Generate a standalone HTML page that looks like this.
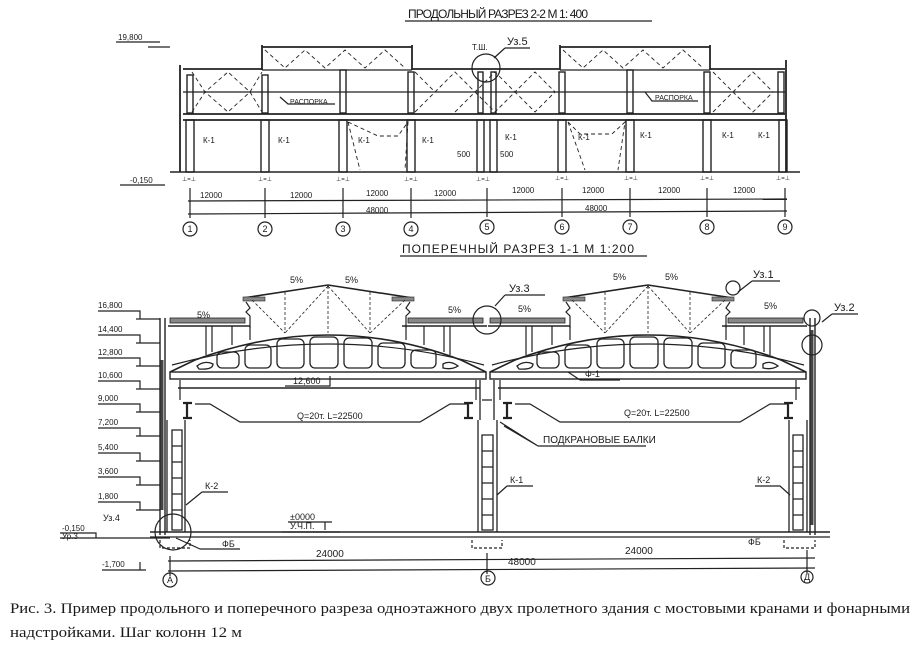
<!DOCTYPE html>
<html><head><meta charset="utf-8"><style>
html,body{margin:0;padding:0;background:#fff;}
svg{display:block;}
text{font-family:"Liberation Sans",sans-serif;fill:#1a1a1a;}
</style></head><body>
<svg width="920" height="648" viewBox="0 0 920 648" xmlns="http://www.w3.org/2000/svg" stroke="#222" fill="none" stroke-width="1.2">
<!-- ===== TOP: longitudinal section ===== -->
<text x="408" y="18" font-size="12" stroke="none" textLength="180">ПРОДОЛЬНЫЙ РАЗРЕЗ 2-2 М 1: 400</text>
<line x1="405" y1="21" x2="652" y2="21"/>
<text x="118" y="40" font-size="8" stroke="none">19,800</text>
<line x1="116" y1="42" x2="160" y2="42"/><line x1="148" y1="47" x2="170" y2="47"/>
<g stroke-width="1.8">
<line x1="183" y1="69" x2="262" y2="69"/><line x1="262" y1="47" x2="412" y2="47"/>
<line x1="412" y1="69" x2="560" y2="69"/><line x1="560" y1="47" x2="710" y2="47"/>
<line x1="710" y1="69" x2="785" y2="69"/>
<line x1="262" y1="45" x2="262" y2="70"/><line x1="412" y1="45" x2="412" y2="70"/>
<line x1="560" y1="45" x2="560" y2="70"/><line x1="710" y1="45" x2="710" y2="70"/>
<line x1="180" y1="65" x2="180" y2="172"/><line x1="786" y1="60" x2="786" y2="172"/>
<line x1="183" y1="114" x2="785" y2="114"/><line x1="183" y1="120" x2="785" y2="120"/>
</g>
<line x1="183" y1="92" x2="785" y2="92"/><line x1="262" y1="70" x2="412" y2="70"/><line x1="560" y1="70" x2="710" y2="70"/>
<g stroke-dasharray="4,3" stroke-width="0.9">
<path d="M192 72 L205 92 L228 72 L250 92 L262 72 M192 112 L205 92 L228 112 L250 92 L262 112"/>
<path d="M265 50 L285 68 L305 50 L325 68 L345 50 L365 68 L385 50 L405 68"/>
<path d="M415 72 L435 92 L455 72 L475 92 L495 72 L515 92 L535 72 L555 92 M415 112 L435 92 L455 72 M455 112 L475 92 L495 112 L515 92 L535 112 L555 92"/>
<path d="M563 50 L583 68 L603 50 L623 68 L643 50 L663 68 L683 50 L703 68"/>
<path d="M713 72 L733 92 L753 72 L773 92 M713 112 L733 92 L753 112 L773 92"/>
<path d="M348 122 L360 170 M348 122 L378 136 L398 136 L408 122 L405 170"/>
<path d="M568 122 L585 170 M568 122 L580 134 L612 134 L625 122 L618 170"/>
</g>
<text x="290" y="104" font-size="7" stroke="none">РАСПОРКА</text><path d="M280 97 L288 104 L335 104"/>
<text x="655" y="100" font-size="7" stroke="none">РАСПОРКА</text><path d="M645 92 L652 101 L698 101"/>
<g stroke-width="1.4">
<rect x="186" y="120" width="8" height="52"/><rect x="261" y="120" width="8" height="52"/><rect x="339" y="120" width="8" height="52"/><rect x="407" y="120" width="8" height="52"/>
<rect x="477" y="120" width="7" height="52"/><rect x="490" y="120" width="7" height="52"/>
<rect x="558" y="120" width="8" height="52"/><rect x="626" y="120" width="8" height="52"/><rect x="703" y="120" width="8" height="52"/><rect x="779" y="120" width="8" height="52"/>
<rect x="187" y="75" width="6" height="38"/><rect x="262" y="75" width="6" height="38"/><rect x="340" y="70" width="6" height="43"/><rect x="408" y="72" width="6" height="41"/>
<rect x="478" y="72" width="5" height="41"/><rect x="491" y="72" width="5" height="41"/><rect x="559" y="72" width="6" height="41"/><rect x="627" y="70" width="6" height="43"/><rect x="704" y="72" width="6" height="41"/><rect x="778" y="72" width="6" height="41"/>
</g>
<line x1="170" y1="172" x2="800" y2="172" stroke-width="1.6"/>
<circle cx="486" cy="68" r="14"/>
<text x="472" y="50" font-size="8" stroke="none">Т.Ш.</text><text x="507" y="45" font-size="11" stroke="none">Уз.5</text><line x1="505" y1="48" x2="530" y2="48"/><line x1="505" y1="48" x2="494" y2="58"/>
<g font-size="8" stroke="none">
<text x="203" y="143">К-1</text><text x="278" y="143">К-1</text><text x="358" y="143">К-1</text><text x="422" y="143">К-1</text><text x="505" y="140">К-1</text><text x="578" y="140">К-1</text><text x="640" y="138">К-1</text><text x="722" y="138">К-1</text><text x="758" y="138">К-1</text>
<text x="457" y="157">500</text><text x="500" y="157">500</text>
<text x="130" y="183">-0,150</text>
<text x="200" y="198">12000</text><text x="290" y="198">12000</text><text x="366" y="196">12000</text><text x="434" y="196">12000</text><text x="512" y="193">12000</text><text x="582" y="193">12000</text><text x="658" y="193">12000</text><text x="733" y="193">12000</text>
<text x="366" y="213">48000</text><text x="585" y="211">48000</text>
</g>
<g font-size="6" stroke="none"><text x="182" y="181">⊥=⊥</text><text x="258" y="181">⊥=⊥</text><text x="336" y="181">⊥=⊥</text><text x="404" y="181">⊥=⊥</text><text x="476" y="181">⊥=⊥</text><text x="555" y="180">⊥=⊥</text><text x="624" y="180">⊥=⊥</text><text x="700" y="180">⊥=⊥</text><text x="776" y="180">⊥=⊥</text></g>
<line x1="120" y1="185" x2="165" y2="185"/>
<line x1="188" y1="201" x2="787" y2="199"/><line x1="188" y1="214" x2="787" y2="211"/>
<g><line x1="190" y1="188" x2="190" y2="218"/><line x1="265" y1="188" x2="265" y2="218"/><line x1="343" y1="188" x2="343" y2="218"/><line x1="411" y1="188" x2="411" y2="218"/><line x1="487" y1="188" x2="487" y2="217"/><line x1="562" y1="188" x2="562" y2="217"/><line x1="630" y1="188" x2="630" y2="217"/><line x1="707" y1="188" x2="707" y2="217"/><line x1="785" y1="188" x2="785" y2="217"/></g>
<g font-size="9" stroke="none" text-anchor="middle">
<text x="190" y="232">1</text><text x="265" y="232">2</text><text x="343" y="232">3</text><text x="411" y="232">4</text><text x="487" y="230">5</text><text x="562" y="230">6</text><text x="630" y="230">7</text><text x="707" y="230">8</text><text x="785" y="230">9</text></g>
<g><circle cx="190" cy="229" r="7"/><circle cx="265" cy="229" r="7"/><circle cx="343" cy="229" r="7"/><circle cx="411" cy="229" r="7"/><circle cx="487" cy="227" r="7"/><circle cx="562" cy="227" r="7"/><circle cx="630" cy="227" r="7"/><circle cx="707" cy="227" r="7"/><circle cx="785" cy="227" r="7"/></g>

<!-- ===== BOTTOM ===== -->
<text x="402" y="253" font-size="12" stroke="none" textLength="232">ПОПЕРЕЧНЫЙ РАЗРЕЗ 1-1 М 1:200</text>
<line x1="400" y1="256" x2="647" y2="256"/>
<g font-size="8" stroke="none">
<text x="98" y="308">16,800</text><text x="98" y="332">14,400</text><text x="98" y="355">12,800</text><text x="98" y="378">10,600</text><text x="98" y="401">9,000</text><text x="98" y="425">7,200</text><text x="98" y="450">5,400</text><text x="98" y="474">3,600</text><text x="98" y="499">1,800</text><text x="62" y="531">-0,150</text><text x="62" y="539">Ур.3</text><text x="103" y="521" font-size="9">Уз.4</text><text x="102" y="567">-1,700</text>
</g>
<g>
<path d="M98 311 H140 V319 M136 319 H160"/><path d="M98 335 H140 V343 M136 343 H160"/><path d="M98 358 H140 V366 M136 366 H160"/><path d="M98 381 H140 V389 M136 389 H160"/><path d="M98 404 H140 V412 M136 412 H160"/><path d="M98 428 H140 V436 M136 436 H160"/><path d="M98 453 H140 V461 M136 461 H160"/><path d="M98 477 H140 V485 M136 485 H160"/><path d="M98 502 H140 V510 M136 510 H160"/>
<path d="M60 533 H96 V538 M60 538 H170"/><path d="M102 570 H146 M140 562 V570"/>
</g>
<g stroke-width="1.4">
<line x1="160" y1="318" x2="160" y2="535"/><line x1="165" y1="318" x2="165" y2="535"/>
<line x1="810" y1="318" x2="810" y2="535"/><line x1="815" y1="318" x2="815" y2="535"/>
</g>
<line x1="162" y1="360" x2="162" y2="510" stroke-width="3" stroke="#444"/>
<line x1="812" y1="330" x2="812" y2="525" stroke-width="3" stroke="#444"/>
<g id="span">
<rect x="170" y="318" width="75" height="5" fill="#888" stroke-width="0.8"/>
<rect x="408" y="318" width="75" height="5" fill="#888" stroke-width="0.8"/>
<line x1="168" y1="326" x2="250" y2="326" stroke-width="1.6"/><line x1="402" y1="326" x2="487" y2="326" stroke-width="1.6"/>
<path d="M243 298 L328 285 L413 298" stroke-width="1.6"/>
<rect x="243" y="297" width="22" height="4" fill="#888" stroke-width="0.6"/><rect x="392" y="297" width="22" height="4" fill="#888" stroke-width="0.6"/>
<path d="M246 302 L250 308 L246 312 L250 316 L250 328 M410 302 L406 308 L410 312 L406 316 L406 328"/>
<g stroke-dasharray="3,2" stroke-width="0.8"><path d="M252 300 L285 333 M285 292 V333 M328 286 L285 333 M328 286 V333 M328 286 L370 333 M370 292 V333 M405 300 L370 333"/></g>
<path d="M170 372 L195 360 Q328 310 461 360 L486 372" stroke-width="1.6"/>
<path d="M172 365 Q328 323 484 365"/>
<rect x="170" y="372" width="316" height="7" stroke-width="1.4"/>
<g stroke-width="1.3">
<path d="M197 366 Q205 360 213 364 Q213 370 199 369Z"/>
<rect x="217" y="352" width="22" height="16" rx="5"/><rect x="245" y="345" width="26" height="23" rx="5"/><rect x="277" y="339" width="27" height="29" rx="5"/><rect x="310" y="337" width="28" height="31" rx="5"/><rect x="344" y="338" width="28" height="30" rx="5"/><rect x="378" y="343" width="27" height="25" rx="5"/><rect x="411" y="350" width="25" height="18" rx="5"/>
<path d="M443 364 Q450 360 458 366 Q452 370 443 368Z"/>
</g>
<path d="M206 326 V355 M212 326 V352 M232 326 V345 M250 326 V340 M406 326 V340 M424 326 V345 M444 326 V352 M450 326 V355"/>
<line x1="178" y1="388" x2="480" y2="388" stroke-width="1.6"/>
<path d="M180 380 V400 M476 380 V400"/>
<path d="M195 404 L210 404 L240 422 L420 422 L450 404 L468 404"/>
<path d="M183 403 H192 M187 403 V418 M183 418 H192 M464 403 H473 M468 403 V418 M464 418 H473" stroke-width="2.2"/>
</g>
<use href="#span" transform="translate(320,0)"/>
<g stroke-width="1.3">
<path d="M167 420 V532 M185 420 V532 M172 430 H182 V530 H172Z M172 446 H182 M172 462 H182 M172 478 H182 M172 494 H182 M172 510 H182"/>
<path d="M478 420 V532 M497 420 V532 M482 435 H493 V530 H482Z M482 451 H493 M482 467 H493 M482 483 H493 M482 499 H493 M482 515 H493"/>
<path d="M789 420 V532 M807 420 V532 M793 435 H803 V530 H793Z M793 451 H803 M793 467 H803 M793 483 H803 M793 499 H803 M793 515 H803"/>
<path d="M480 380 V420 M494 380 V420 M482 400 H492"/>
</g>
<line x1="150" y1="532" x2="830" y2="532" stroke-width="1.4"/><line x1="150" y1="537" x2="830" y2="537"/>
<g stroke-dasharray="3,2"><path d="M160 540 V548 H190 V540 M472 540 V548 H502 V540 M784 540 V548 H815 V540"/></g>
<circle cx="173" cy="532" r="18"/><circle cx="487" cy="320" r="14"/><circle cx="812" cy="318" r="8"/><circle cx="812" cy="345" r="10"/><circle cx="733" cy="288" r="7"/>
<g font-size="9" stroke="none">
<text x="290" y="283">5%</text><text x="345" y="283">5%</text><text x="613" y="280">5%</text><text x="665" y="280">5%</text>
<text x="197" y="318">5%</text><text x="448" y="313">5%</text><text x="518" y="312">5%</text><text x="764" y="309">5%</text>
<text x="509" y="292" font-size="11">Уз.3</text><text x="753" y="278" font-size="11">Уз.1</text><text x="834" y="311" font-size="11">Уз.2</text>
<text x="293" y="384">12,600</text>
<text x="585" y="377">Ф-1</text>
<text x="297" y="419">Q=20т.  L=22500</text><text x="624" y="416">Q=20т.  L=22500</text>
<text x="543" y="443" font-size="10">ПОДКРАНОВЫЕ БАЛКИ</text>
<text x="205" y="489">К-2</text><text x="510" y="483">К-1</text><text x="757" y="483">К-2</text>
<text x="290" y="520">±0000</text><text x="290" y="529">У.Ч.П.</text>
<text x="222" y="547">ФБ</text><text x="748" y="545">ФБ</text>
<text x="316" y="557" font-size="10">24000</text><text x="625" y="554" font-size="10">24000</text><text x="508" y="565" font-size="10">48000</text>
</g>
<path d="M505 295 H545 M505 295 L495 306 M752 281 H780 M752 281 L738 292 M832 314 H858 M832 314 L822 322"/>
<path d="M285 386 H330 V376 M580 380 H620 M580 380 L568 372 M538 446 H646 M538 446 L500 422 M538 446 L504 426 M202 492 H228 M202 492 L186 505 M507 486 H533 M507 486 L497 495 M755 486 H780 L790 495"/>
<path d="M288 522 H332 M325 522 V530 M282 532 H340"/>
<path d="M200 549 H240 M200 549 L176 538"/>
<line x1="168" y1="561" x2="815" y2="558"/><line x1="168" y1="571" x2="815" y2="568"/>
<path d="M170 556 V576 M487 553 V574 M807 550 V573"/>
<g font-size="9" stroke="none" text-anchor="middle"><text x="170" y="583">А</text><text x="488" y="582">Б</text><text x="807" y="580">Д</text></g>
<circle cx="170" cy="580" r="7"/><circle cx="488" cy="578" r="7"/><circle cx="807" cy="577" r="6"/>
<text x="10" y="613" font-size="15" stroke="none" style="font-family:'Liberation Serif',serif" textLength="900" lengthAdjust="spacingAndGlyphs">Рис. 3. Пример продольного и поперечного разреза одноэтажного двух пролетного здания с мостовыми кранами и фонарными</text>
<text x="10" y="637" font-size="15" stroke="none" style="font-family:'Liberation Serif',serif" textLength="232" lengthAdjust="spacingAndGlyphs">надстройками. Шаг колонн 12 м</text>
</svg>
</body></html>
